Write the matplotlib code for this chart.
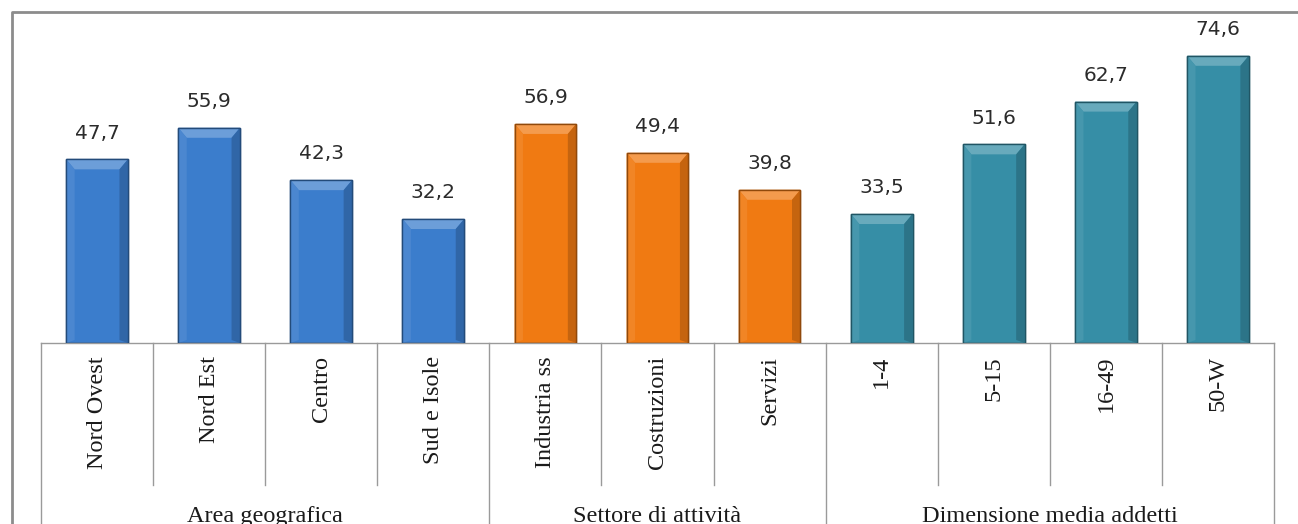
import matplotlib
matplotlib.use('Agg')
import matplotlib.pyplot as plt
from matplotlib.patches import Polygon
from matplotlib.lines import Line2D
import matplotlib.colors as mcolors

categories = ["Nord Ovest", "Nord Est", "Centro", "Sud e Isole",
              "Industria ss", "Costruzioni", "Servizi",
              "1-4", "5-15", "16-49", "50-W"]
values = [47.7, 55.9, 42.3, 32.2, 56.9, 49.4, 39.8, 33.5, 51.6, 62.7, 74.6]
groups = ["Area geografica", "Settore di attività", "Dimensione media addetti"]
group_sizes = [4, 3, 4]
group_colors = ["#3b7dcc", "#f07a12", "#368ea6"]


def shade(color, f):
    r, g, b = mcolors.to_rgb(color)
    if f > 1:
        return (r + (1 - r) * (f - 1), g + (1 - g) * (f - 1), b + (1 - b) * (f - 1))
    return (r * f, g * f, b * f)


W, H = 1298, 524
fig = plt.figure(figsize=(W / 100, H / 100), dpi=100)
base_y = 343
ax = fig.add_axes([41 / W, (H - base_y) / H, (1274 - 41) / W, (base_y - 11) / H])
ax_h = base_y - 11
px_per_unit = 3.85
ax.set_ylim(0, ax_h / px_per_unit)
ax.set_xlim(-0.5, len(categories) - 0.5)
ax.axis('off')

colors = []
for c, n in zip(group_colors, group_sizes):
    colors += [c] * n

x = list(range(len(categories)))
bars = ax.bar(x, values, width=0.55, color=colors, edgecolor=[shade(c, 0.6) for c in colors],
              linewidth=1.0, zorder=2)

# bevel effect on the top of each bar
dx = 0.075
dy = 10 / px_per_unit
for b, c in zip(bars, colors):
    x0, w, h = b.get_x(), b.get_width(), b.get_height()
    top = Polygon([(x0, h), (x0 + w, h), (x0 + w - dx, h - dy), (x0 + dx, h - dy)],
                  closed=True, facecolor=shade(c, 1.25), edgecolor='none', zorder=3)
    left = Polygon([(x0, h), (x0 + dx, h - dy), (x0 + dx, dy * 0.3), (x0, 0)],
                   closed=True, facecolor=shade(c, 1.08), edgecolor='none', zorder=3)
    right = Polygon([(x0 + w, h), (x0 + w - dx, h - dy), (x0 + w - dx, dy * 0.3), (x0 + w, 0)],
                    closed=True, facecolor=shade(c, 0.82), edgecolor='none', zorder=3)
    for p in (top, left, right):
        ax.add_patch(p)
    ax.add_patch(Polygon([(x0, 0), (x0 + w, 0), (x0 + w, h), (x0, h)], closed=True,
                         facecolor='none', edgecolor=shade(c, 0.6), linewidth=1.0, zorder=4))

for xi, v in zip(x, values):
    ax.annotate(f"{v:.1f}".replace('.', ','), (xi, v), xytext=(0, 12),
                textcoords='offset points', ha='center', va='bottom',
                fontsize=14.5, color='#2b2b2b', family='DejaVu Sans')

# category table below the axis
tr = ax.get_xaxis_transform()
line_kw = dict(color='#9a9a9a', linewidth=1.0, transform=tr, clip_on=False)
row1 = -(485 - base_y) / ax_h
bottom = -(H - base_y + 5) / ax_h
ax.add_line(Line2D([-0.5, len(categories) - 0.5], [0, 0], **line_kw))

edges = [-0.5]
for n in group_sizes:
    edges.append(edges[-1] + n)
for e in edges:
    ax.add_line(Line2D([e, e], [0, bottom], **line_kw))
for i in range(len(categories) - 1):
    e = i + 0.5
    if e not in edges:
        ax.add_line(Line2D([e, e], [0, row1], **line_kw))

for xi, lab in zip(x, categories):
    ax.text(xi, -13 / ax_h, lab, rotation=90, ha='center', va='top', transform=tr,
            fontsize=17.5, family='Liberation Serif', color='#1a1a1a')

for g, a, b in zip(groups, edges[:-1], edges[1:]):
    ax.text((a + b) / 2, -(506 - base_y) / ax_h, g, ha='center', va='top', transform=tr,
            fontsize=17.5, family='Liberation Serif', color='#1a1a1a')

# outer frame of the chart area
fig.add_artist(Line2D([11.5 / W, 11.5 / W, 1.0], [0, (H - 11.5) / H, (H - 11.5) / H],
                      transform=fig.transFigure, color='#8c8c8c', linewidth=2))

fig.savefig('out.png', dpi=100, facecolor='white')
